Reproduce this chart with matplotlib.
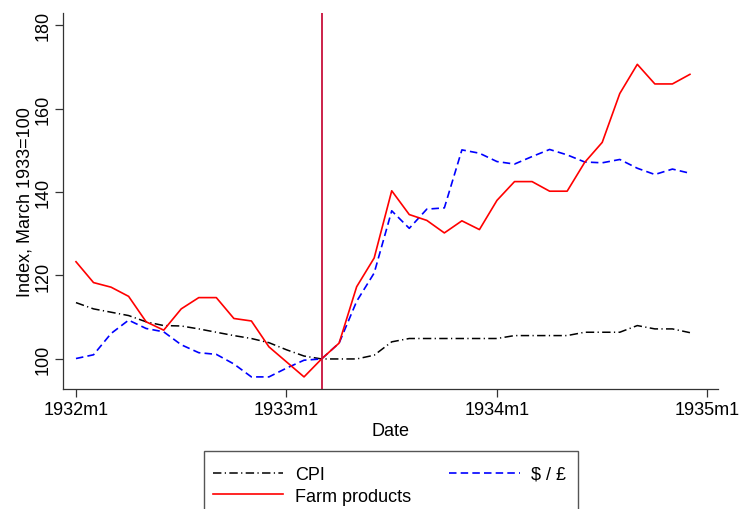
import numpy as np
import matplotlib
matplotlib.use("Agg")
import matplotlib.pyplot as plt
from matplotlib.patches import Rectangle

plt.rcParams['font.family'] = ['Liberation Sans', 'DejaVu Sans']

# Monthly observations, 1932m1 .. 1934m12 (index, March 1933 = 100)
months = [f"{1932 + i // 12}m{i % 12 + 1}" for i in range(36)]

cpi = [113.5, 112.0, 111.2, 110.4, 108.9, 108.0, 107.9, 107.2, 106.4, 105.6,
       104.9, 103.9, 102.2, 100.7, 100.0, 100.0, 100.0, 100.9, 104.1, 104.9,
       104.9, 104.9, 104.9, 104.9, 104.9, 105.6, 105.6, 105.6, 105.6, 106.4,
       106.4, 106.4, 108.0, 107.2, 107.2, 106.3]

dollar_pound = [100.1, 101.0, 106.1, 109.3, 107.3, 106.5, 103.4, 101.5, 101.1, 98.8,
                95.7, 95.7, 97.8, 99.7, 100.0, 103.8, 113.8, 120.6, 135.5, 131.3,
                135.9, 136.2, 150.1, 149.3, 147.3, 146.7, 148.5, 150.2, 148.9, 147.2,
                147.0, 147.8, 145.7, 144.2, 145.5, 144.5]

farm_products = [123.3, 118.3, 117.2, 115.0, 108.9, 106.9, 112.0, 114.7, 114.7, 109.7,
                 109.1, 102.9, 99.3, 95.7, 100.0, 103.8, 117.3, 124.2, 140.3, 134.6,
                 133.2, 130.2, 133.1, 131.0, 138.0, 142.5, 142.5, 140.2, 140.2, 147.1,
                 151.9, 163.6, 170.6, 165.9, 165.9, 168.2]

tick_labels = ["1932m1", "1933m1", "1934m1", "1935m1"]
tick_months = [0, 12, 24, 36]
base_month = "1933m3"

x = np.arange(len(months))

W, H = 739, 510
fig = plt.figure(figsize=(W / 100, H / 100), dpi=100)
ax = fig.add_axes([63 / W, 1 - 390 / H, (718 - 63) / W, (390 - 14) / H])

l_cpi, = ax.plot(x, cpi, color='black', lw=1.1, dashes=(5.5, 2.2, 0.8, 2.2),
                 label='CPI')
l_usd, = ax.plot(x, dollar_pound, color='#0000ff', lw=1.2, dashes=(4.5, 2.5),
                 label='$ / £')
l_farm, = ax.plot(x, farm_products, color='#ff0000', lw=1.2, label='Farm products')

ax.axvline(months.index(base_month), color='#c8103a', lw=1.3)

ax.set_xlim(-0.74, 36.6)
ax.set_ylim(92.8, 182.9)
ax.set_xticks(tick_months)
ax.set_xticklabels(tick_labels)
ax.set_yticks([100, 120, 140, 160, 180])
ax.set_yticklabels(['100', '120', '140', '160', '180'], rotation=90, va='center')

for s in ['top', 'right']:
    ax.spines[s].set_visible(False)
for s in ['left', 'bottom']:
    ax.spines[s].set_color('#333333')
    ax.spines[s].set_linewidth(0.9)

ax.tick_params(axis='both', length=5.5, width=0.9, color='#333333',
               labelsize=13, pad=3)
ax.tick_params(axis='y', pad=2.5)

ax.set_xlabel('Date', fontsize=13, labelpad=3)
ax.set_ylabel('Index, March 1933=100', fontsize=13, labelpad=1)

# Legend entries without their own frame; the box runs off the bottom edge
leg = fig.legend(handles=[l_cpi, l_farm, l_usd], ncol=2,
                 loc='upper left', bbox_to_anchor=(213 / W, 1 - 467 / H),
                 fontsize=13, frameon=False,
                 handlelength=3.9, handletextpad=0.65, columnspacing=2.1,
                 borderpad=0, labelspacing=0.25, borderaxespad=0)
box_left, box_right, box_top = 204, 578, 452
fig.patches.append(Rectangle((box_left / W, -10 / H),
                             (box_right - box_left) / W, (H - box_top + 10) / H,
                             transform=fig.transFigure, fill=False,
                             edgecolor='#555555', linewidth=1.0))

fig.savefig('out.png', dpi=100)
